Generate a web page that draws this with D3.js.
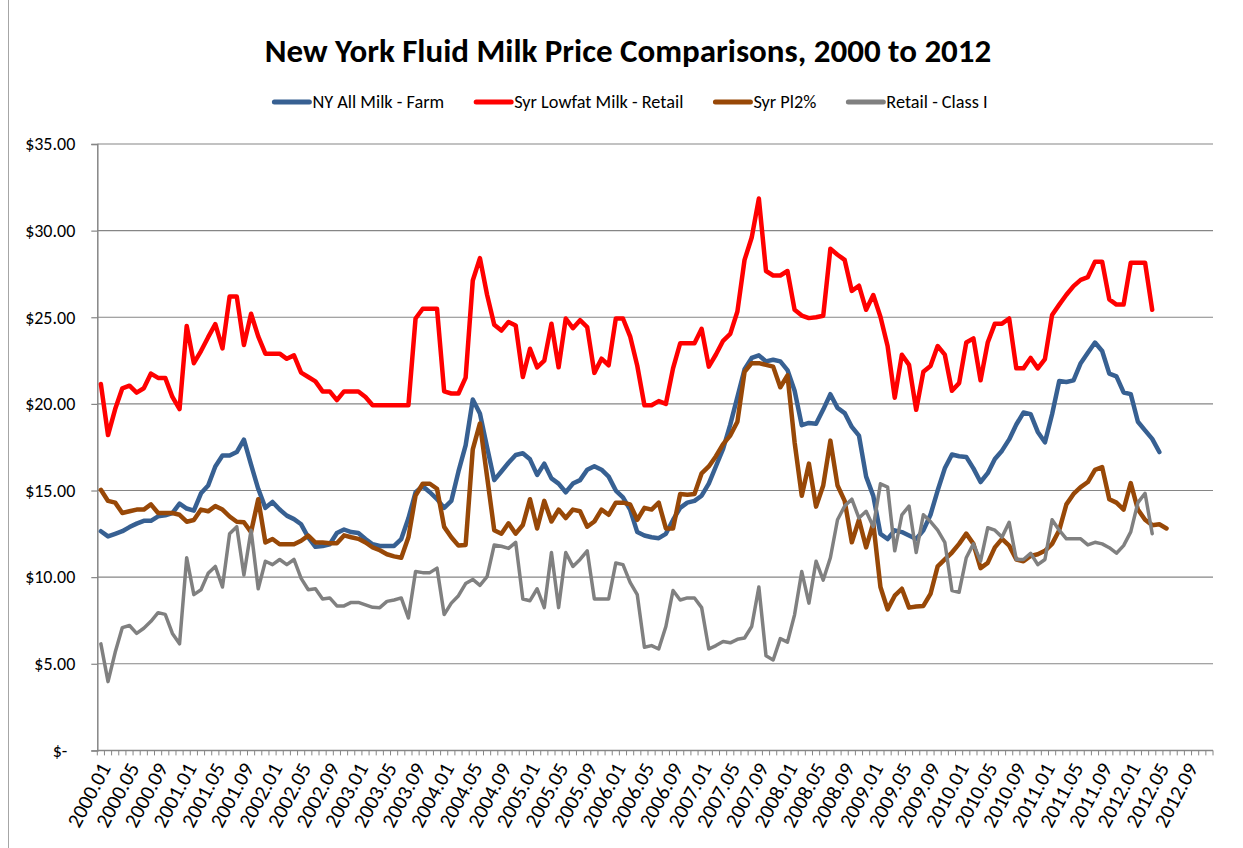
<!DOCTYPE html>
<html>
<head>
<meta charset="utf-8">
<script src="https://cdn.jsdelivr.net/npm/d3@7"></script>
<style>
  body { margin: 0; background: #fff; }
  svg { display: block; font-family: Carlito, Calibri, Lato, sans-serif; }
</style>
</head>
<body>
<svg id="chart" width="1243" height="848"></svg>
<script>
const width = 1243;
const height = 848;
const plot = {left: 97.3, right: 1213, top: 144, bottom: 750.4};

// categories: monthly, 2000.01 .. 2012.12
const years = [2000, 2001, 2002, 2003, 2004, 2005, 2006, 2007, 2008, 2009, 2010, 2011, 2012];
const months = ["01", "02", "03", "04", "05", "06", "07", "08", "09", "10", "11", "12"];
const categories = years.flatMap(y => months.map(m => `${y}.${m}`));

const seriesNames = ["NY All Milk - Farm", "Syr Lowfat Milk - Retail", "Syr Pl2%", "Retail - Class I"];

// one row per year
const nyAllMilkFarm = [
  12.65, 12.35, 12.5, 12.65, 12.89, 13.09, 13.25, 13.25, 13.51, 13.57, 13.7, 14.24,
  13.96, 13.84, 14.84, 15.29, 16.39, 17.02, 17.02, 17.22, 17.94, 16.49, 15.1, 14.0,
  14.34, 13.9, 13.55, 13.35, 13.05, 12.3, 11.75, 11.8, 11.9, 12.55, 12.75, 12.6,
  12.55, 12.2, 11.9, 11.8, 11.8, 11.8, 12.2, 13.4, 14.9, 15.25, 14.9, 14.5,
  14.0, 14.4, 16.1, 17.6, 20.25, 19.45, 17.5, 15.6, 16.1, 16.6, 17.05, 17.15,
  16.8, 15.9, 16.55, 15.7, 15.4, 14.9, 15.4, 15.6, 16.2, 16.4, 16.2, 15.8,
  15.0, 14.6, 13.9, 12.6, 12.4, 12.3, 12.25, 12.5, 13.3, 14.0, 14.3, 14.4,
  14.7, 15.4, 16.4, 17.4, 18.8, 20.4, 22.0, 22.65, 22.8, 22.45, 22.55, 22.45,
  21.95, 20.76, 18.77, 18.9, 18.85, 19.67, 20.56, 19.77, 19.47, 18.67, 18.17, 15.8,
  14.69, 12.5, 12.2, 12.7, 12.6, 12.4, 12.2, 12.7, 13.6, 15.0, 16.28, 17.08,
  16.98, 16.94, 16.28, 15.49, 16.0, 16.82, 17.3, 17.95, 18.81, 19.5, 19.41, 18.38,
  17.78, 19.4, 21.32, 21.26, 21.36, 22.35, 22.95, 23.54, 23.05, 21.75, 21.59, 20.66,
  20.56, 18.97, 18.47, 17.98, 17.22
];

const syrLowfatRetail = [
  21.15, 18.2, 19.7, 20.9, 21.05, 20.65, 20.9, 21.75, 21.5, 21.5, 20.4, 19.7,
  24.5, 22.35, 23.05, 23.85, 24.6, 23.2, 26.2, 26.2, 23.4, 25.2, 23.9, 22.9,
  22.9, 22.9, 22.6, 22.8, 21.8, 21.55, 21.3, 20.72, 20.72, 20.22, 20.72, 20.72,
  20.72, 20.4, 19.92, 19.92, 19.92, 19.92, 19.92, 19.92, 24.93, 25.49, 25.49, 25.49,
  20.72, 20.6, 20.6, 21.52, 27.12, 28.41, 26.3, 24.57, 24.23, 24.73, 24.53, 21.55,
  23.18, 22.11, 22.5, 24.63, 22.11, 24.93, 24.37, 24.83, 24.43, 21.79, 22.61, 22.23,
  24.93, 24.93, 23.9, 22.2, 19.92, 19.92, 20.16, 20.0, 22.05, 23.5, 23.5, 23.5,
  24.33, 22.15, 22.85, 23.64, 24.04, 25.33, 28.31, 29.6, 31.85, 27.67, 27.41, 27.41,
  27.67, 25.43, 25.1, 24.95, 25.0, 25.09, 28.95, 28.61, 28.31, 26.52, 26.82, 25.43,
  26.28, 25.03, 23.34, 20.36, 22.84, 22.25, 19.66, 21.85, 22.19, 23.34, 22.84, 20.76,
  21.2, 23.54, 23.78, 21.36, 23.54, 24.63, 24.63, 24.93, 22.05, 22.05, 22.65, 22.05,
  22.59, 25.13, 25.73, 26.3, 26.8, 27.16, 27.32, 28.21, 28.21, 26.03, 25.73, 25.73,
  28.15, 28.15, 28.15, 25.43
];

const syrPl2 = [
  15.04, 14.4, 14.3, 13.7, 13.8, 13.9, 13.9, 14.2, 13.7, 13.7, 13.7, 13.6,
  13.2, 13.3, 13.9, 13.8, 14.1, 13.9, 13.5, 13.2, 13.17, 12.6, 14.5, 12.0,
  12.2, 11.9, 11.9, 11.9, 12.1, 12.4, 12.0, 12.0, 11.95, 11.95, 12.41, 12.3,
  12.21, 12.0, 11.72, 11.55, 11.32, 11.2, 11.12, 12.3, 14.7, 15.39, 15.39, 15.1,
  12.9, 12.3, 11.82, 11.86, 17.38, 18.87, 15.8, 12.71, 12.51, 13.11, 12.51, 13.01,
  14.5, 12.81, 14.4, 13.21, 13.9, 13.41, 13.9, 13.8, 12.91, 13.21, 13.9, 13.6,
  14.3, 14.3, 14.2, 13.31, 14.0, 13.9, 14.3, 12.81, 12.81, 14.8, 14.76, 14.8,
  15.99, 16.39, 16.98, 17.68, 18.17, 18.97, 21.85, 22.35, 22.35, 22.25, 22.15, 20.96,
  21.65, 17.78, 14.7, 16.55, 14.07, 15.29, 17.88, 15.29, 14.4, 12.01, 13.31, 11.72,
  13.11, 9.43, 8.14, 8.93, 9.33, 8.24, 8.3, 8.34, 9.03, 10.62, 11.02, 11.42,
  11.92, 12.51, 11.92, 10.52, 10.82, 11.72, 12.21, 11.82, 11.02, 10.92, 11.22, 11.32,
  11.52, 11.92, 12.71, 14.2, 14.8, 15.2, 15.49, 16.19, 16.35, 14.5, 14.3, 13.9,
  15.43, 13.9, 13.31, 13.0, 13.05, 12.81
];

const retailClassI = [
  6.15, 3.97, 5.66, 7.09, 7.21, 6.75, 7.05, 7.45, 7.95, 7.85, 6.75, 6.15,
  11.12, 8.99, 9.27, 10.22, 10.62, 9.43, 12.51, 12.91, 10.12, 12.71, 9.33, 10.92,
  10.72, 11.02, 10.72, 11.02, 9.93, 9.27, 9.33, 8.74, 8.8, 8.34, 8.34, 8.54,
  8.54, 8.4, 8.26, 8.24, 8.6, 8.68, 8.8, 7.64, 10.32, 10.26, 10.26, 10.52,
  7.84, 8.5, 8.93, 9.63, 9.87, 9.53, 10.03, 11.86, 11.78, 11.66, 12.01, 8.74,
  8.64, 9.33, 8.24, 11.42, 8.24, 11.42, 10.62, 11.02, 11.52, 8.74, 8.74, 8.74,
  10.82, 10.72, 9.7, 8.99, 5.95, 6.05, 5.85, 7.15, 9.23, 8.68, 8.8, 8.8,
  8.24, 5.85, 6.05, 6.29, 6.21, 6.41, 6.49, 7.15, 9.43, 5.46, 5.22, 6.45,
  6.25, 7.84, 10.32, 8.5, 10.92, 9.83, 11.12, 13.31, 14.1, 14.5, 13.41, 13.8,
  12.91, 15.39, 15.2, 11.52, 13.6, 14.1, 11.42, 13.6, 13.21, 12.71, 12.01, 9.23,
  9.13, 11.12, 11.92, 10.92, 12.85, 12.71, 12.31, 13.17, 11.02, 11.02, 11.38, 10.72,
  11.02, 13.31, 12.71, 12.21, 12.21, 12.21, 11.86, 12.01, 11.92, 11.7, 11.38, 11.82,
  12.61, 14.3, 14.84, 12.51
];

const yTicks = [0, 5, 10, 15, 20, 25, 30, 35];

// styles per series (same order as seriesNames)
const seriesColors = ["#376092", "#ff0000", "#984807", "#808080"];
const seriesWidths = [4.5, 4.5, 4.5, 3.5];
const seriesValues = [nyAllMilkFarm, syrLowfatRetail, syrPl2, retailClassI];

const gridColor = "#868686";

const svg = d3.select("#chart");

// chart area edge
svg.append("line")
  .attr("x1", 8.5).attr("x2", 8.5)
  .attr("y1", 0).attr("y2", height)
  .attr("stroke", "#a6a6a6")
  .attr("stroke-width", 1);

// Title
svg.append("text")
  .attr("x", 628)
  .attr("y", 62)
  .attr("text-anchor", "middle")
  .attr("font-size", "33px")
  .attr("font-weight", "bold")
  .attr("fill", "#000")
  .text("New York Fluid Milk Price Comparisons, 2000 to 2012");

// Scales
const x = d3.scaleBand()
  .domain(categories)
  .range([plot.left, plot.right])
  .paddingInner(0)
  .paddingOuter(0);

const y = d3.scaleLinear()
  .domain([0, 35])
  .range([plot.bottom, plot.top]);

const cx = c => x(c) + x.bandwidth() / 2;

// Gridlines
svg.append("g")
  .selectAll("line")
  .data(yTicks.filter(v => v > 0))
  .enter().append("line")
  .attr("x1", plot.left)
  .attr("x2", plot.right)
  .attr("y1", d => y(d))
  .attr("y2", d => y(d))
  .attr("stroke", gridColor)
  .attr("stroke-width", 1.2);

// Y axis
const yAxis = d3.axisLeft(y)
  .tickValues(yTicks)
  .tickSize(6)
  .tickPadding(16)
  .tickFormat(v => v === 0 ? "$-" : "$" + v.toFixed(2));

const gy = svg.append("g")
  .attr("transform", `translate(${plot.left},0)`)
  .call(yAxis);
gy.select(".domain").attr("stroke", gridColor).attr("stroke-width", 1.5);
gy.selectAll(".tick line").attr("stroke", gridColor).attr("stroke-width", 1.2);
gy.selectAll(".tick text")
  .attr("font-size", "18px")
  .attr("font-family", "Carlito, Calibri, Lato, sans-serif")
  .attr("fill", "#000")
  .attr("dx", d => d === 0 ? -8 : 0);

// X axis: line, a tick at each category edge, a label every 4 months
const gx = svg.append("g");
gx.append("line")
  .attr("x1", plot.left).attr("x2", plot.right)
  .attr("y1", plot.bottom).attr("y2", plot.bottom)
  .attr("stroke", gridColor)
  .attr("stroke-width", 1.5);

gx.selectAll(".xtick")
  .data(categories.concat(["end"]))
  .enter().append("line")
  .attr("class", "xtick")
  .attr("x1", (d, i) => plot.left + i * x.bandwidth())
  .attr("x2", (d, i) => plot.left + i * x.bandwidth())
  .attr("y1", plot.bottom)
  .attr("y2", plot.bottom + 5)
  .attr("stroke", gridColor)
  .attr("stroke-width", 1);

gx.selectAll(".xlabel")
  .data(categories.filter((d, i) => i % 4 === 0))
  .enter().append("text")
  .attr("class", "xlabel")
  .attr("transform", d => `translate(${cx(d) + 4}, ${plot.bottom + 14}) rotate(-62)`)
  .attr("text-anchor", "end")
  .attr("dy", "0.35em")
  .attr("font-size", "21px")
  .attr("fill", "#000")
  .text(d => d);

// Lines
const line = d3.line()
  .x((d, i) => cx(categories[i]))
  .y(d => y(d));

seriesValues.forEach((vals, k) => {
  svg.append("path")
    .datum(vals)
    .attr("d", line)
    .attr("fill", "none")
    .attr("stroke", seriesColors[k])
    .attr("stroke-width", seriesWidths[k])
    .attr("stroke-linejoin", "round")
    .attr("stroke-linecap", "round");
});

// Legend
const legend = svg.append("g");
let lx = 0;
seriesNames.forEach((name, k) => {
  const item = legend.append("g").attr("transform", `translate(${lx},0)`);
  item.append("line")
    .attr("x1", 2).attr("x2", 37)
    .attr("y1", 0).attr("y2", 0)
    .attr("stroke", seriesColors[k])
    .attr("stroke-width", 5)
    .attr("stroke-linecap", "round");
  const t = item.append("text")
    .attr("x", 40)
    .attr("dy", "0.35em")
    .attr("font-size", "18.3px")
    .attr("fill", "#000")
    .text(name);
  lx += 40 + t.node().getComputedTextLength() + 30;
});
const legendWidth = lx - 30;
legend.attr("transform", `translate(${630 - legendWidth / 2}, 102)`);
</script>
</body>
</html>
